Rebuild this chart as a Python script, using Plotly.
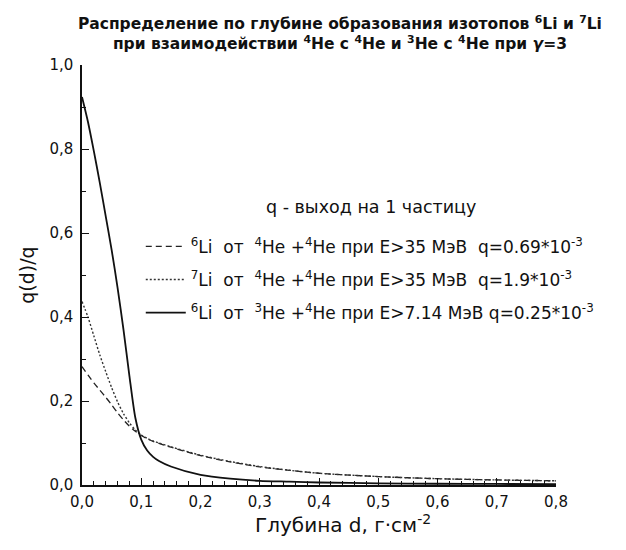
import plotly.graph_objects as go

# Depth values, g/cm^2
d_vals = [0.0, 0.01, 0.02, 0.03, 0.04, 0.05, 0.06, 0.07, 0.08, 0.09, 0.10, 0.11, 0.12, 0.13,
          0.15, 0.20, 0.25, 0.30, 0.35, 0.40, 0.50, 0.60, 0.70, 0.80]

# 6Li from 4He+4He (dashed)
li6_hehe = [0.282, 0.262, 0.243, 0.226, 0.209, 0.191, 0.172, 0.155, 0.140, 0.128, 0.118, 0.110, 0.104, 0.099,
            0.090, 0.070, 0.055, 0.043, 0.035, 0.028, 0.020, 0.015, 0.012, 0.010]
# 7Li from 4He+4He (dotted)
li7_hehe = [0.437, 0.400, 0.355, 0.310, 0.270, 0.232, 0.198, 0.170, 0.148, 0.131, 0.119, 0.111, 0.105, 0.100,
            0.091, 0.071, 0.056, 0.044, 0.035, 0.028, 0.020, 0.015, 0.012, 0.010]
# 6Li from 3He+4He (solid)
li6_he3he = [0.924, 0.865, 0.795, 0.720, 0.640, 0.560, 0.470, 0.370, 0.260, 0.160, 0.108, 0.082, 0.067, 0.057,
             0.044, 0.024, 0.015, 0.010, 0.008, 0.006, 0.004, 0.003, 0.0025, 0.002]

names = [
    "<sup>6</sup>Li  от  <sup>4</sup>He +<sup>4</sup>He при E&gt;35 МэВ  q=0.69*10<sup>-3</sup>",
    "<sup>7</sup>Li  от  <sup>4</sup>He +<sup>4</sup>He при E&gt;35 МэВ  q=1.9*10<sup>-3</sup>",
    "<sup>6</sup>Li  от  <sup>3</sup>He +<sup>4</sup>He при E&gt;7.14 МэВ q=0.25*10<sup>-3</sup>",
]
x_ticks = [0.0, 0.1, 0.2, 0.3, 0.4, 0.5, 0.6, 0.7, 0.8]
y_ticks = [0.0, 0.2, 0.4, 0.6, 0.8, 1.0]

title_text = ("Распределение по глубине образования изотопов <sup>6</sup>Li и <sup>7</sup>Li<br>"
              "при взаимодействии <sup>4</sup>He с <sup>4</sup>He и <sup>3</sup>He с <sup>4</sup>He при <i>γ</i>=3")
x_title = "Глубина d, г·см<sup>-2</sup>"
y_title = "q(d)/q"
note_text = "q - выход на 1 частицу"

FONT = "DejaVu Sans, Arial, sans-serif"

fig = go.Figure()
fig.add_trace(go.Scatter(x=d_vals, y=li6_hehe, mode="lines", name=names[0], legendgroup="a",
                         line=dict(color="#222", width=1.3, dash="6px,4px", shape="spline", smoothing=0.7)))
fig.add_trace(go.Scatter(x=d_vals, y=li7_hehe, mode="lines", name=names[1], legendgroup="b",
                         line=dict(color="#333", width=1.4, dash="2px,2px", shape="spline", smoothing=0.7)))
fig.add_trace(go.Scatter(x=d_vals, y=li6_he3he, mode="lines", name=names[2], legendgroup="c",
                         line=dict(color="#111", width=1.8, shape="spline", smoothing=0.7)))

fig.update_layout(
    width=626, height=550,
    margin=dict(l=82, r=70, t=65, b=65),
    paper_bgcolor="white", plot_bgcolor="white",
    separators=",.",
    font=dict(family=FONT, color="#111", size=15),
    title=dict(text=title_text, x=0.543, xanchor="center", y=0.947, yanchor="middle",
               font=dict(family=FONT, size=15.5, color="#111", weight="bold")),
    showlegend=True,
    legend=dict(x=0.124, y=0.61, xanchor="left", yanchor="top",
                bgcolor="rgba(0,0,0,0)", font=dict(family=FONT, size=17, color="#111"),
                tracegroupgap=8, itemwidth=40),
    annotations=[
        dict(text=note_text, xref="paper", yref="paper",
             x=0.385, y=0.663, xanchor="left", yanchor="middle", showarrow=False,
             font=dict(family=FONT, size=17.5, color="#111")),
        dict(text=x_title, xref="paper", yref="paper",
             x=0.55, y=-0.093, xanchor="center", yanchor="middle", showarrow=False,
             font=dict(family=FONT, size=20, color="#111")),
    ],
)
fig.update_xaxes(range=[0, 0.8], tickvals=x_ticks, tickformat=".1f",
                 showline=True, linecolor="#111", linewidth=1.5, mirror=False,
                 ticks="inside", ticklen=7, tickwidth=1.3, tickcolor="#111",
                 minor=dict(ticks="inside", dtick=0.02, ticklen=4, tickwidth=1.2, tickcolor="#111"),
                 showgrid=False, zeroline=False, ticklabelstandoff=2,
                 tickfont=dict(size=15))
fig.update_yaxes(range=[0, 1.0], tickvals=y_ticks, tickformat=".1f",
                 showline=True, linecolor="#111", linewidth=1.5, mirror=False,
                 ticks="inside", ticklen=7, tickwidth=1.3, tickcolor="#111",
                 minor=dict(ticks="inside", dtick=0.1, ticklen=4, tickwidth=1.2, tickcolor="#111"),
                 showgrid=False, zeroline=False, ticklabelstandoff=4,
                 tickfont=dict(size=15),
                 title=dict(text=y_title, font=dict(size=19), standoff=10))

fig.write_html("out.html")
